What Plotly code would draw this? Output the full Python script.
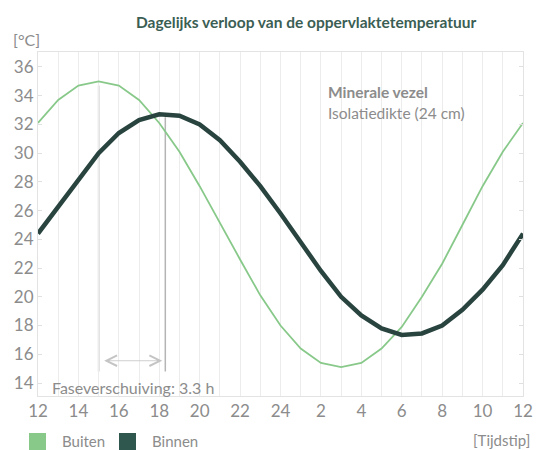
import plotly.graph_objects as go

# ---- data ----
hours = list(range(25))
hour_labels = ["12", "", "14", "", "16", "", "18", "", "20", "", "22", "", "24",
               "", "2", "", "4", "", "6", "", "8", "", "10", "", "12"]
buiten = [32.1, 33.7, 34.7, 35.0, 34.7, 33.7, 32.1, 30.1, 27.7, 25.1, 22.6, 20.1, 18.0,
          16.4, 15.4, 15.1, 15.4, 16.4, 17.9, 20.0, 22.3, 25.0, 27.7, 30.1, 32.1]
binnen = [24.4, 26.3, 28.2, 30.0, 31.4, 32.3, 32.7, 32.6, 32.0, 30.9, 29.4, 27.7, 25.8,
          23.8, 21.8, 20.0, 18.7, 17.8, 17.35, 17.45, 18.0, 19.1, 20.5, 22.2, 24.4]
y_ticks = [14, 16, 18, 20, 22, 24, 26, 28, 30, 32, 34, 36]
peak_buiten_x = 3.0
peak_binnen_x = 6.3
phase_label = "Faseverschuiving: 3.3 h"

GREEN = "#88c98a"
DARK = "#29443f"
DARK_LEG = "#2f574d"
GRAY = "#8c8c8c"
FONT = "Lato"

W, H = 536, 450
ML, MR, MT, MB = 38, 13, 52, 54
PW, PH = W - ML - MR, H - MT - MB

def px(x):
    return (x - ML) / PW

def py(y):
    return (H - MB - y) / PH

fig = go.Figure()
fig.add_trace(go.Scatter(x=hours, y=buiten, mode="lines", name="Buiten",
                         line=dict(color=GREEN, width=1.8), showlegend=False))
fig.add_trace(go.Scatter(x=hours, y=binnen, mode="lines", name="Binnen",
                         line=dict(color=DARK, width=4.5), showlegend=False))

# phase shift marker lines
fig.add_shape(type="line", x0=peak_buiten_x, x1=peak_buiten_x, y0=14.8, y1=34.7,
              line=dict(color="#b5b5b5", width=1.5), layer="below")
fig.add_shape(type="line", x0=peak_binnen_x, x1=peak_binnen_x, y0=14.8, y1=32.5,
              line=dict(color="#b5b5b5", width=1.5), layer="below")
fig.add_annotation(x=peak_binnen_x - 0.15, y=15.55, ax=peak_buiten_x + 0.2, ay=15.55,
                   xref="x", yref="y", axref="x", ayref="y", text="",
                   showarrow=True, arrowhead=5, arrowside="end+start",
                   arrowsize=2.6, arrowwidth=0.8, arrowcolor="#c4c4c4")
fig.add_annotation(x=px(50), y=py(387), xref="paper", yref="paper", text=phase_label,
                   showarrow=False, xanchor="left", yanchor="middle",
                   font=dict(size=16, color=GRAY, family=FONT))

# texts
fig.add_annotation(x=px(326), y=py(92), xref="paper", yref="paper", text="<b>Minerale vezel</b>",
                   showarrow=False, xanchor="left", yanchor="middle",
                   font=dict(size=15.5, color=GRAY, family=FONT))
fig.add_annotation(x=px(326), y=py(113), xref="paper", yref="paper", text="Isolatiedikte (24 cm)",
                   showarrow=False, xanchor="left", yanchor="middle",
                   font=dict(size=15.5, color=GRAY, family=FONT))
fig.add_annotation(x=px(306), y=py(22), xref="paper", yref="paper",
                   text="<b>Dagelijks verloop van de oppervlaktetemperatuur</b>",
                   showarrow=False, xanchor="center", yanchor="middle",
                   font=dict(size=15.5, color="#3b5e54", family=FONT))
fig.add_annotation(x=px(11), y=py(40), xref="paper", yref="paper", text="[°C]",
                   showarrow=False, xanchor="left", yanchor="middle",
                   font=dict(size=16, color=GRAY, family=FONT))
fig.add_annotation(x=px(532), y=py(440), xref="paper", yref="paper", text="[Tijdstip]",
                   showarrow=False, xanchor="right", yanchor="middle",
                   font=dict(size=15, color=GRAY, family=FONT))

# legend
for x0, col, name in [(29, GREEN, "Buiten"), (119, DARK_LEG, "Binnen")]:
    fig.add_shape(type="rect", xref="paper", yref="paper",
                  x0=px(x0), x1=px(x0 + 17), y0=py(450), y1=py(433),
                  fillcolor=col, line=dict(width=0))
    fig.add_annotation(x=px(x0 + 31), y=py(441), xref="paper", yref="paper", text=name,
                       showarrow=False, xanchor="left", yanchor="middle",
                       font=dict(size=15, color=GRAY, family=FONT))

fig.update_layout(
    width=W, height=H,
    margin=dict(l=ML, r=MR, t=MT, b=MB),
    paper_bgcolor="white", plot_bgcolor="white",
    font=dict(family=FONT, color=GRAY),
    hovermode=False,
    xaxis=dict(range=[0, 24], tickvals=hours, ticktext=hour_labels,
               showgrid=True, gridcolor="#ececec", gridwidth=1,
               showline=True, linecolor="#e3e3e3", mirror=True,
               ticks="", zeroline=False, automargin=False,
               tickfont=dict(size=17, color=GRAY, family=FONT)),
    yaxis=dict(range=[13.095, 37.04], tickvals=y_ticks,
               showgrid=False, showline=True, linecolor="#e3e3e3", mirror="ticks",
               ticks="inside", ticklen=4, tickcolor="#e0e0e0", zeroline=False,
               automargin=False,
               tickfont=dict(size=17, color=GRAY, family=FONT)),
)

fig.write_html("out.html", config={"displayModeBar": False, "staticPlot": True},
               post_script="document.body.style.margin='0';document.body.style.overflow='hidden';")
